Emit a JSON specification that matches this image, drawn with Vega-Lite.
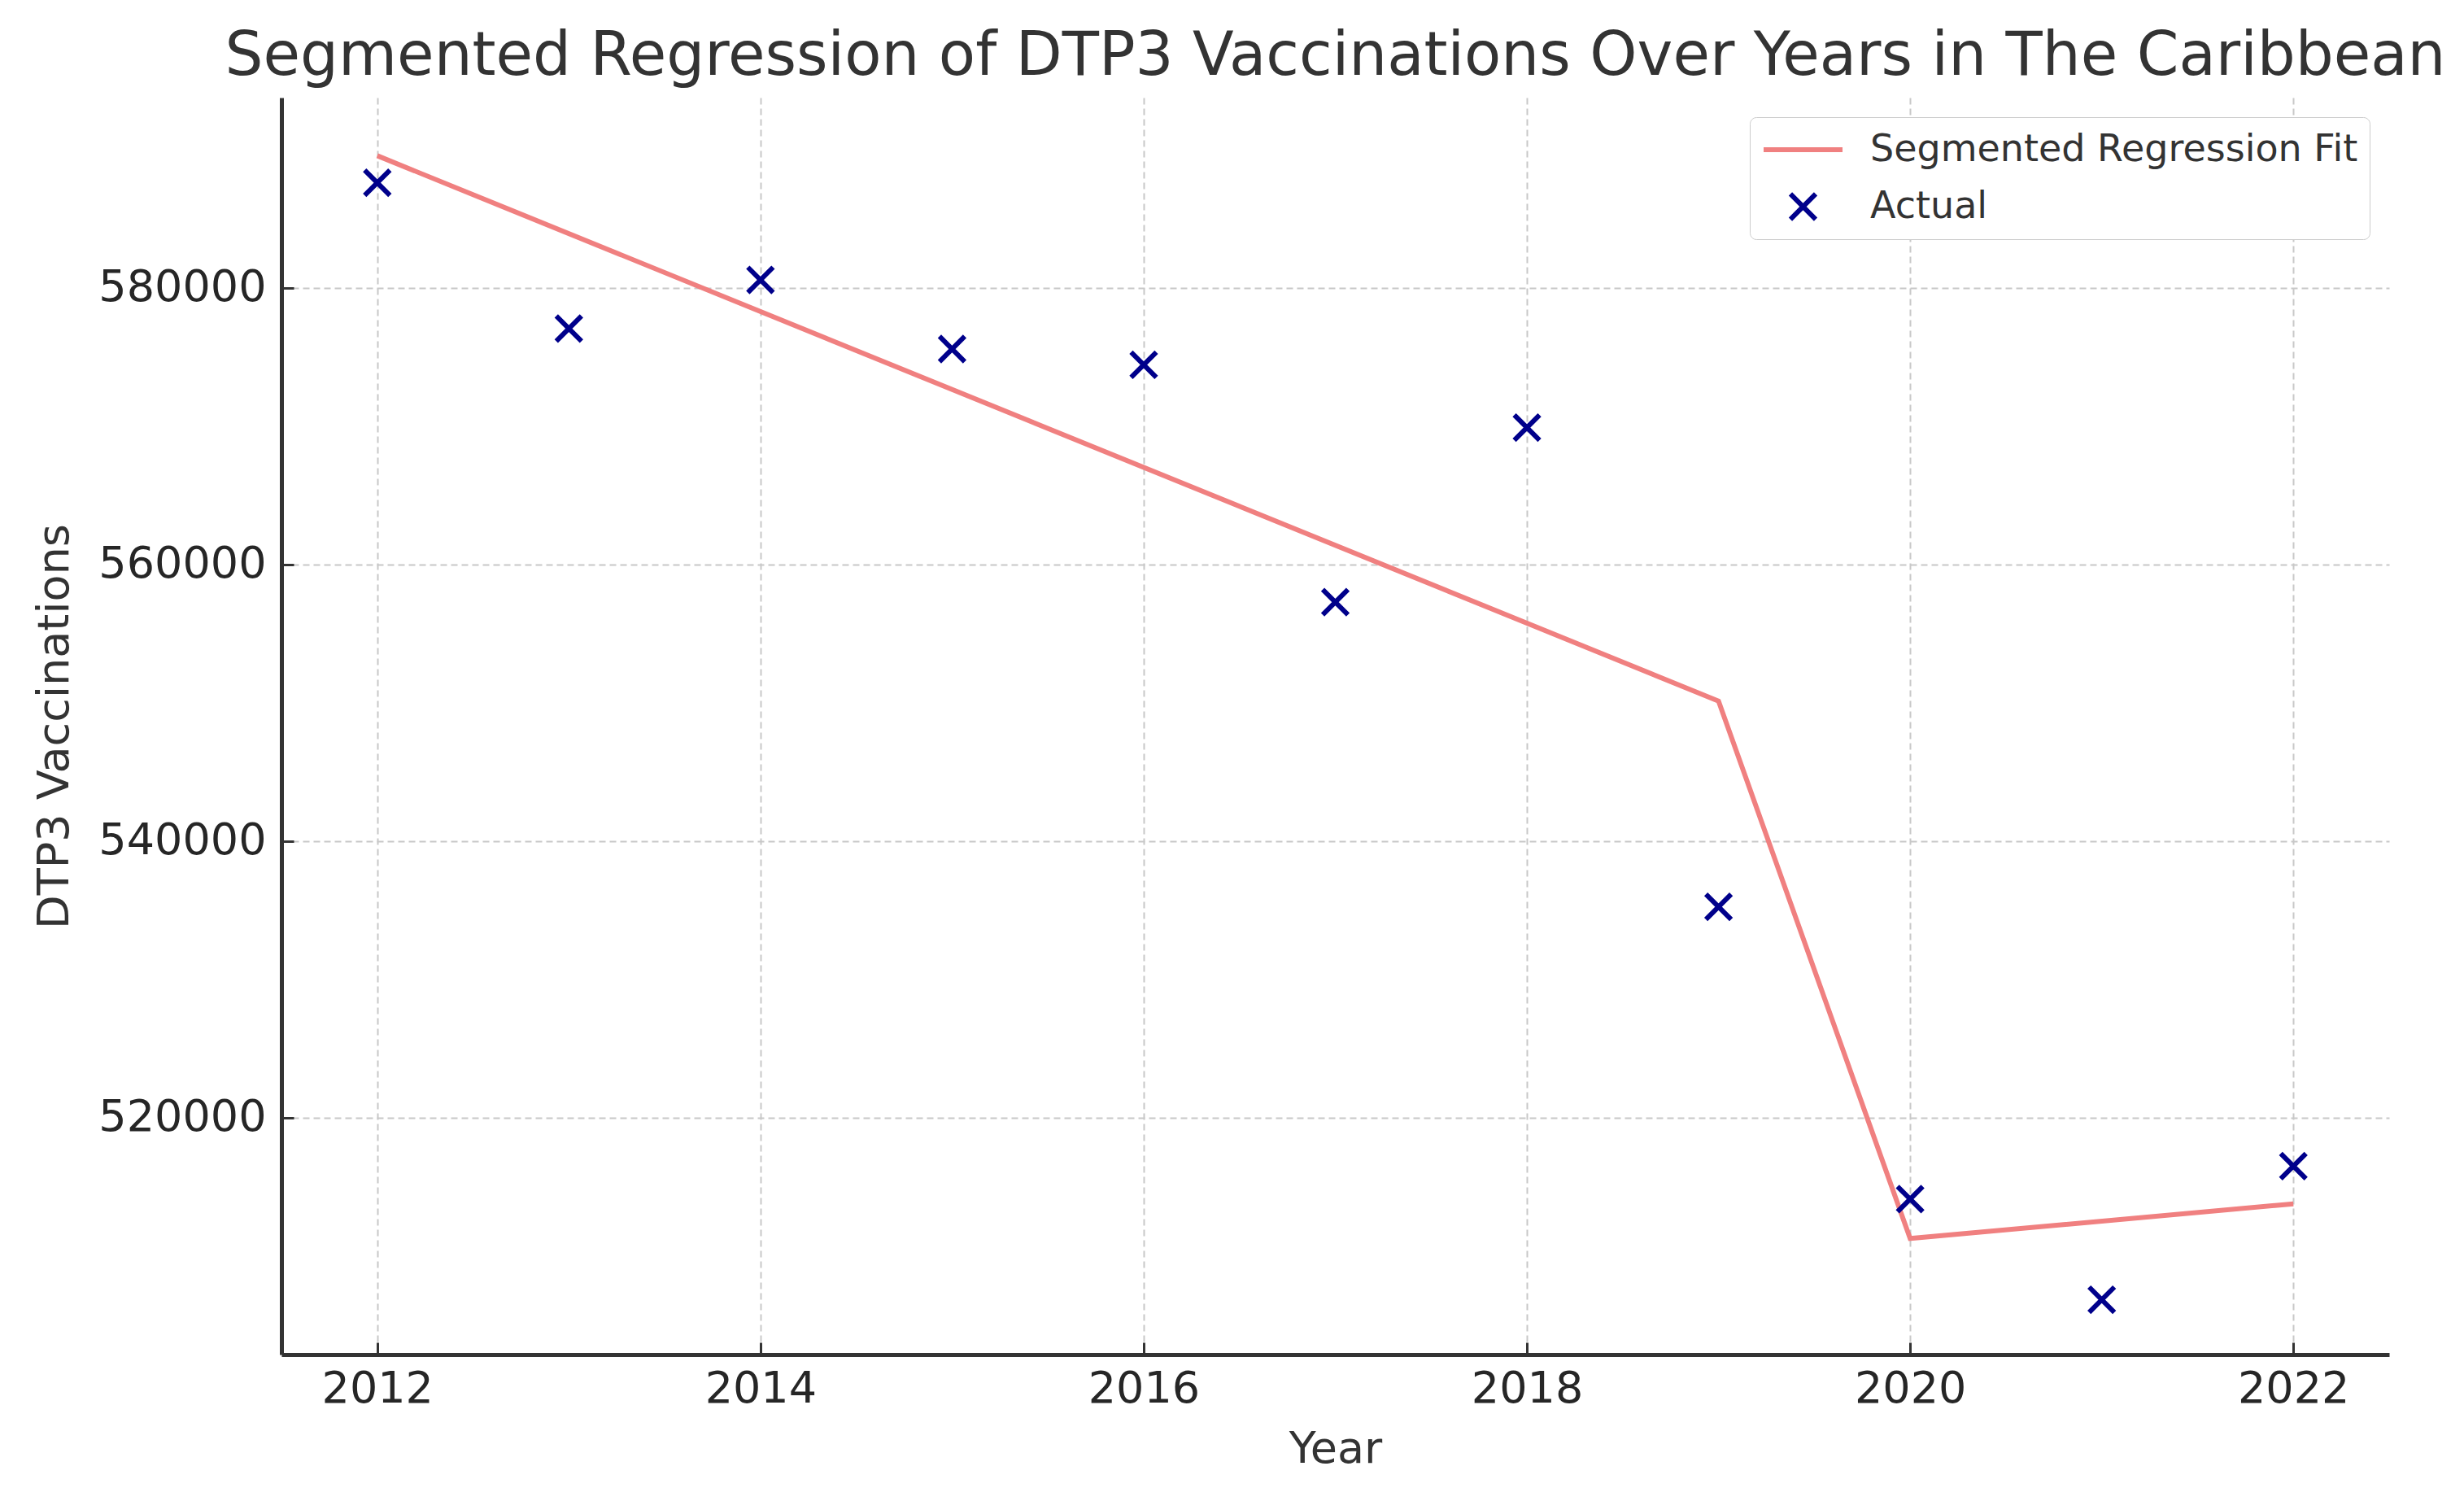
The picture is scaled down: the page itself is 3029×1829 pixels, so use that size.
{
  "$schema": "https://vega.github.io/schema/vega-lite/v6.json",
  "autosize": {"type": "none"},
  "padding": {"left": 346, "top": 120, "right": 92, "bottom": 164},
  "width": 2591,
  "height": 1545,
  "background": "white",
  "config": {
    "view": {"stroke": null},
    "font": "DejaVu Sans",
    "axis": {
      "labelFont": "DejaVu Sans",
      "labelFontSize": 54,
      "labelColor": "#262626",
      "labelLimit": 0,
      "titleFont": "DejaVu Sans",
      "titleFontSize": 54,
      "titleFontWeight": "normal",
      "titleColor": "#333333",
      "domainColor": "#333333",
      "domainWidth": 5,
      "tickColor": "#333333",
      "tickWidth": 3,
      "tickSize": -15,
      "grid": true,
      "gridColor": "#c8c8c8",
      "gridWidth": 2,
      "gridDash": [8, 5]
    },
    "legend": {
      "labelFont": "DejaVu Sans",
      "labelFontSize": 46,
      "labelColor": "#333333",
      "labelLimit": 0,
      "strokeColor": "#cccccc",
      "fillColor": "white",
      "cornerRadius": 8,
      "padding": 14,
      "symbolStrokeWidth": 6,
      "symbolSize": 9409,
      "symbolOffset": 0,
      "labelOffset": 31,
      "clipHeight": 52,
      "rowPadding": 18
    },
    "title": {
      "font": "DejaVu Sans",
      "fontSize": 74,
      "fontWeight": "normal",
      "color": "#333333",
      "anchor": "middle",
      "baseline": "alphabetic",
      "offset": 12
    }
  },
  "title": {"text": "Segmented Regression of DTP3 Vaccinations Over Years in The Caribbean"},
  "datasets": {
    "actual": [
      {"Year": 2012, "Vaccinations": 587600, "Series": "Actual"},
      {"Year": 2013, "Vaccinations": 577050, "Series": "Actual"},
      {"Year": 2014, "Vaccinations": 580570, "Series": "Actual"},
      {"Year": 2015, "Vaccinations": 575570, "Series": "Actual"},
      {"Year": 2016, "Vaccinations": 574430, "Series": "Actual"},
      {"Year": 2017, "Vaccinations": 557270, "Series": "Actual"},
      {"Year": 2018, "Vaccinations": 569890, "Series": "Actual"},
      {"Year": 2019, "Vaccinations": 535230, "Series": "Actual"},
      {"Year": 2020, "Vaccinations": 514090, "Series": "Actual"},
      {"Year": 2021, "Vaccinations": 506820, "Series": "Actual"},
      {"Year": 2022, "Vaccinations": 516480, "Series": "Actual"}
    ],
    "fit": [
      {"Year": 2012, "Vaccinations": 589550, "Series": "Segmented Regression Fit"},
      {"Year": 2019, "Vaccinations": 550110, "Series": "Segmented Regression Fit"},
      {"Year": 2020, "Vaccinations": 511250, "Series": "Segmented Regression Fit"},
      {"Year": 2022, "Vaccinations": 513750, "Series": "Segmented Regression Fit"}
    ]
  },
  "layer": [
    {
      "data": {"name": "fit"},
      "mark": {"type": "line", "strokeWidth": 6},
      "encoding": {
        "x": {"field": "Year", "type": "quantitative", "scale": {"domain": [2011.5, 2022.5], "nice": false, "zero": false},
              "axis": {"title": "Year", "values": [2012, 2014, 2016, 2018, 2020, 2022], "format": "d", "labelPadding": 30, "titlePadding": 20}},
        "y": {"field": "Vaccinations", "type": "quantitative", "scale": {"domain": [502850, 593750], "nice": false, "zero": false},
              "axis": {"title": "DTP3 Vaccinations", "values": [520000, 540000, 560000, 580000], "format": "d", "labelPadding": 34, "titlePadding": 52}},
        "color": {"field": "Series", "type": "nominal",
                  "scale": {"domain": ["Segmented Regression Fit", "Actual"], "range": ["#F08080", "#00008B"]},
                  "legend": {"title": null, "orient": "top-right", "offset": 24}}
      }
    },
    {
      "data": {"name": "actual"},
      "mark": {"type": "point", "filled": false, "strokeWidth": 6, "size": 9409, "opacity": 1},
      "encoding": {
        "x": {"field": "Year", "type": "quantitative"},
        "y": {"field": "Vaccinations", "type": "quantitative"},
        "color": {"field": "Series", "type": "nominal",
                  "scale": {"domain": ["Segmented Regression Fit", "Actual"], "range": ["#F08080", "#00008B"]},
                  "legend": {"title": null, "orient": "top-right", "offset": 24}},
        "shape": {"field": "Series", "type": "nominal",
                  "scale": {"domain": ["Segmented Regression Fit", "Actual"], "range": ["stroke", "M-0.32,-0.32L0.32,0.32M0.32,-0.32L-0.32,0.32"]},
                  "legend": {"title": null, "orient": "top-right", "offset": 24}}
      }
    }
  ]
}
